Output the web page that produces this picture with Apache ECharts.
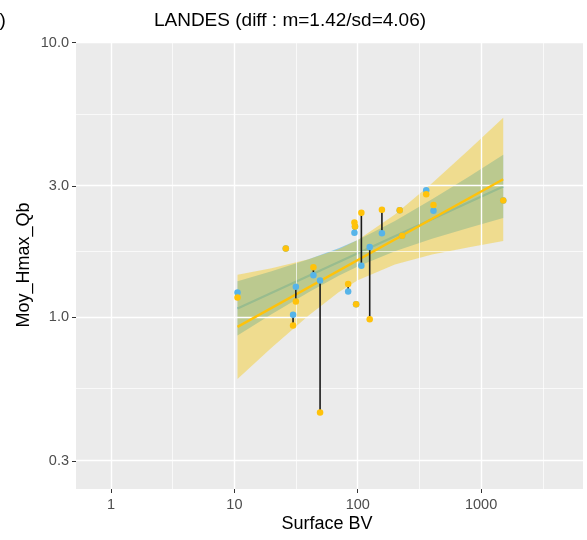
<!DOCTYPE html>
<html lang="fr">
<head>
<meta charset="UTF-8">
<title>LANDES</title>
<script src="https://cdn.jsdelivr.net/npm/echarts@6/dist/echarts.min.js"></script>
<style>
  html, body { margin: 0; padding: 0; background: #fff; }
</style>
</head>
<body>
<div id="main" style="width: 587px;height:540px;"></div>
<script>
// sites : surface BV, valeur bleue (obs) et jaune
var siteX      = [10.6, 26.1, 29.9, 31.5, 43.7, 49.5, 83.6, 94.0, 95.0, 97.0, 107, 125, 157, 219, 229, 359, 411, 1511];
var blueY      = [1.23, 1.78, 1.02, 1.29, 1.42, 1.36, 1.24, 2.03, 2.14, 1.115, 1.54, 1.80, 2.02, 2.45, 1.98, 2.90, 2.44, 2.66];
var yellowY    = [1.18, 1.78, 0.933, 1.14, 1.52, 0.45, 1.32, 2.21, 2.14, 1.115, 2.40, 0.983, 2.46, 2.45, 1.98, 2.80, 2.56, 2.66];

// droites de régression (extrémités)
var fitX       = [10.6, 1511];
var yellowFit  = [0.922, 3.18];
var blueFit    = [1.075, 2.99];

// intervalles de confiance
var ribbonX    = [10.6, 20, 40, 70, 100, 200, 400, 800, 1511];
var yellowLo   = [0.595, 0.774, 1.015, 1.233, 1.364, 1.556, 1.69, 1.798, 1.895];
var yellowHi   = [1.428, 1.508, 1.624, 1.766, 1.909, 2.363, 3.075, 4.08, 5.32];
var blueLo     = [0.857, 1.024, 1.233, 1.415, 1.530, 1.737, 1.928, 2.117, 2.296];
var blueHi     = [1.351, 1.470, 1.624, 1.782, 1.910, 2.239, 2.685, 3.254, 3.901];

// graduations
var xTicks = [1, 10, 100, 1000];
var yTicks = [0.3, 1, 3, 10];

var lg = Math.log10;
var BLUE = '#56B4E9';
var YELLOW = '#FFC20A';

var myChart = echarts.init(document.getElementById('main'));

// lignes de grille (majeures + mineures au milieu, en log)
var xMajor = xTicks.map(lg);
var xMinor = [];
for (var i = 0; i < xMajor.length; i++) {
    var next = i < xMajor.length - 1 ? xMajor[i + 1] : xMajor[i] + 1;
    xMinor.push((xMajor[i] + next) / 2);
}
var yMajor = yTicks.map(lg);
var yMinor = [];
for (var j = 0; j < yMajor.length - 1; j++) {
    yMinor.push((yMajor[j] + yMajor[j + 1]) / 2);
}
var gridLines = [];
xMinor.forEach(function(v) { gridLines.push({ xAxis: v, lineStyle: { width: 0.7 } }); });
yMinor.forEach(function(v) { gridLines.push({ yAxis: v, lineStyle: { width: 0.7 } }); });
xMajor.forEach(function(v) { gridLines.push({ xAxis: v, lineStyle: { width: 1.4 } }); });
yMajor.forEach(function(v) { gridLines.push({ yAxis: v, lineStyle: { width: 1.4 } }); });

function ribbon(lo, hi, color, z) {
    return {
        type: 'custom',
        z: z,
        silent: true,
        data: [[lg(ribbonX[0]), lg(lo[0])]],
        renderItem: function(params, api) {
            var pts = [];
            for (var k = 0; k < ribbonX.length; k++) pts.push(api.coord([lg(ribbonX[k]), lg(hi[k])]));
            for (var m = ribbonX.length - 1; m >= 0; m--) pts.push(api.coord([lg(ribbonX[m]), lg(lo[m])]));
            return { type: 'polygon', shape: { points: pts }, style: { fill: color } };
        }
    };
}

function fitLine(ys, color, z) {
    return {
        type: 'line',
        z: z,
        silent: true,
        showSymbol: false,
        data: fitX.map(function(x, k) { return [lg(x), lg(ys[k])]; }),
        lineStyle: { color: color, width: 2.3 }
    };
}

var segData = siteX.map(function(x, k) { return [lg(x), lg(blueY[k]), lg(yellowY[k])]; });

var option = {
    animation: false,
    textStyle: { fontFamily: '"Liberation Sans", Arial, sans-serif' },
    grid: {
        left: 76, right: 4, top: 42.5, bottom: 51,
        show: true, backgroundColor: '#EBEBEB', borderWidth: 0
    },
    xAxis: {
        type: 'value',
        min: -0.284, max: 3.826,
        axisLine: { show: false, onZero: false },
        splitLine: { show: false },
        axisTick: { show: true, length: 4, lineStyle: { color: '#333333', width: 1 }, customValues: xMajor },
        axisLabel: {
            customValues: xMajor, margin: 8, color: '#4D4D4D', fontSize: 14.5,
            formatter: function(v) { return String(Math.round(Math.pow(10, v))); }
        }
    },
    yAxis: {
        type: 'value',
        min: -0.6255, max: 1,
        axisLine: { show: false, onZero: false },
        splitLine: { show: false },
        axisTick: { show: true, length: 4, lineStyle: { color: '#333333', width: 1 }, customValues: yMajor },
        axisLabel: {
            customValues: yMajor, margin: 7, color: '#4D4D4D', fontSize: 14.5,
            formatter: function(v) { return Math.pow(10, v).toFixed(1); }
        }
    },
    graphic: [
        { type: 'text', x: -0.5, y: 21, style: { text: ')', fill: '#000', font: '19px "Liberation Sans"', align: 'left', verticalAlign: 'middle' } },
        { type: 'text', x: 290, y: 21, style: { text: 'LANDES (diff : m=1.42/sd=4.06)', fill: '#000', font: '19px "Liberation Sans"', align: 'center', verticalAlign: 'middle' } },
        { type: 'text', x: 327, y: 524, style: { text: 'Surface BV', fill: '#000', font: '18px "Liberation Sans"', align: 'center', verticalAlign: 'middle' } },
        { type: 'text', x: 24, y: 265, rotation: Math.PI / 2, style: { text: 'Moy_Hmax_Qb', fill: '#000', font: '18px "Liberation Sans"', align: 'center', verticalAlign: 'middle' } }
    ],
    series: [
        {
            type: 'scatter', z: 1, data: [], silent: true,
            markLine: {
                silent: true, symbol: ['none', 'none'], label: { show: false },
                lineStyle: { color: '#FFFFFF', type: 'solid' },
                data: gridLines
            }
        },
        ribbon(blueLo, blueHi, 'rgba(86,180,233,0.6)', 2),
        fitLine(blueFit, BLUE, 3),
        ribbon(yellowLo, yellowHi, 'rgba(245,199,16,0.42)', 4),
        fitLine(yellowFit, YELLOW, 5),
        {
            type: 'custom', z: 6, silent: true,
            data: segData,
            encode: { x: 0, y: [1, 2] },
            renderItem: function(params, api) {
                var p1 = api.coord([api.value(0), api.value(1)]);
                var p2 = api.coord([api.value(0), api.value(2)]);
                return { type: 'line', shape: { x1: p1[0], y1: p1[1], x2: p2[0], y2: p2[1] },
                         style: { stroke: '#1A1A1A', lineWidth: 1.6 } };
            }
        },
        {
            type: 'scatter', z: 7, symbolSize: 6.5,
            itemStyle: { color: BLUE, opacity: 1 },
            data: siteX.map(function(x, k) { return [lg(x), lg(blueY[k])]; })
        },
        {
            type: 'scatter', z: 8, symbolSize: 6.5,
            itemStyle: { color: YELLOW, opacity: 1 },
            data: siteX.map(function(x, k) { return [lg(x), lg(yellowY[k])]; })
        }
    ]
};

myChart.setOption(option);
</script>
</body>
</html>
